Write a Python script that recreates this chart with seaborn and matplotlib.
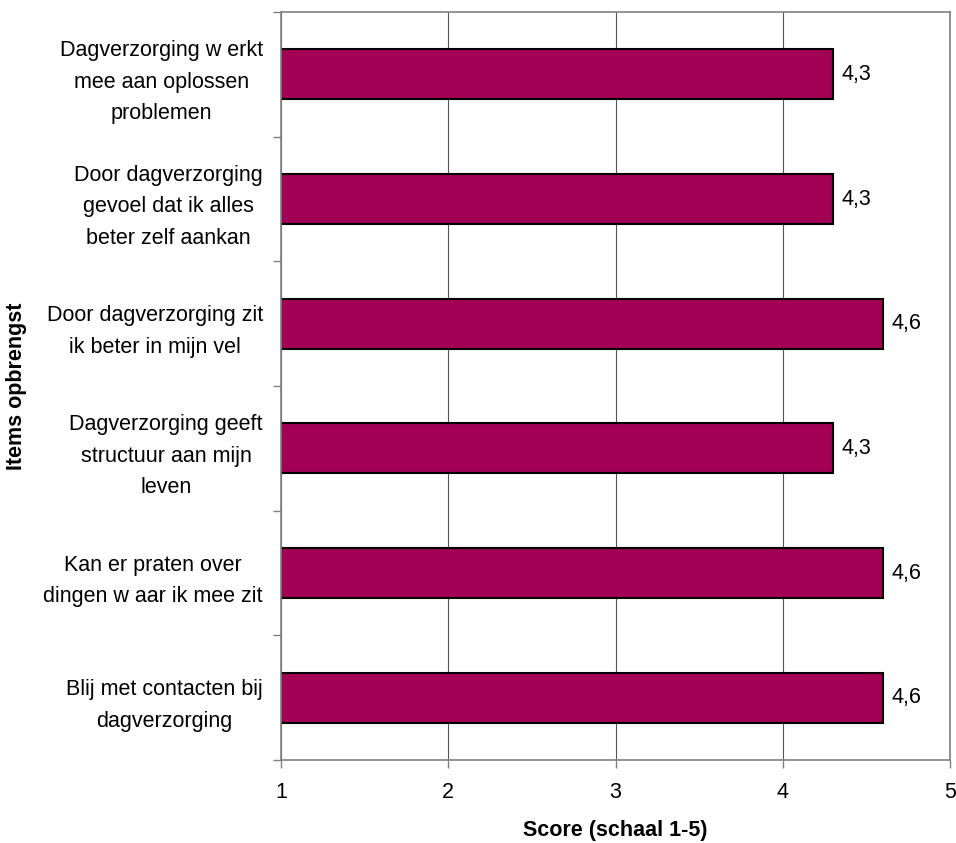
import matplotlib
matplotlib.use("Agg")
import matplotlib.pyplot as plt
import seaborn as sns
import pandas as pd

categories = [
    "Dagverzorging w erkt\nmee aan oplossen\nproblemen",
    "Door dagverzorging\ngevoel dat ik alles\nbeter zelf aankan",
    "Door dagverzorging zit\nik beter in mijn vel",
    "Dagverzorging geeft\nstructuur aan mijn\nleven",
    "Kan er praten over\ndingen w aar ik mee zit",
    "Blij met contacten bij\ndagverzorging",
]
scores = [4.3, 4.3, 4.6, 4.3, 4.6, 4.6]
value_labels = ["4,3", "4,3", "4,6", "4,3", "4,6", "4,6"]
x_ticks = [1, 2, 3, 4, 5]

sns.set_theme(style="white")
plt.rcParams['font.family'] = ['Liberation Sans', 'DejaVu Sans']
plt.rcParams['text.color'] = 'black'
plt.rcParams['axes.labelcolor'] = 'black'

FS = 15.5

df = pd.DataFrame({"item": categories, "score": scores})

fig = plt.figure(figsize=(9.56, 8.43), dpi=100)
ax = fig.add_axes([281/956, 1-760/843, (950-281)/956, (760-12)/843])

sns.barplot(data=df, x="score", y="item", ax=ax, color="#A10055",
            saturation=1, width=0.4, edgecolor="black", linewidth=1.5, orient="h")

ax.set_xlim(1, 5)
ax.set_ylim(len(categories)-0.5, -0.5)
ax.set_xticks(x_ticks)
ax.set_xticklabels([str(t) for t in x_ticks], fontsize=FS)
ax.tick_params(axis="x", pad=10, labelcolor="black")
ax.set_yticks([i for i in range(len(categories))])
ax.set_yticklabels(categories, fontsize=FS, ha="right", multialignment="center",
                   linespacing=1.65)
ax.tick_params(axis="y", length=0, pad=13, labelcolor="black")

# minor ticks at category boundaries
ax.set_yticks([i - 0.5 for i in range(len(categories) + 1)], minor=True)
ax.tick_params(axis="y", which="minor", length=6, color="#808080", width=1, left=True)
ax.tick_params(axis="x", which="major", length=6, color="#808080", width=1, bottom=True)

ax.xaxis.grid(True, color="#555555", linewidth=0.8)
ax.set_axisbelow(True)
for s in ax.spines.values():
    s.set_color("#808080")
    s.set_linewidth(1.2)

for i, (v, lab) in enumerate(zip(scores, value_labels)):
    ax.annotate(lab, xy=(v, i), xytext=(6, 0), textcoords="offset points",
                va="center", ha="left", fontsize=FS, color="black")

ax.set_xlabel("Score (schaal 1-5)", fontsize=FS, fontweight="bold", labelpad=12)
ax.set_ylabel("Items opbrengst", fontsize=FS, fontweight="bold")
ax.yaxis.set_label_coords(-(281-27)/669, 0.5)

fig.savefig("out.png", dpi=100)
